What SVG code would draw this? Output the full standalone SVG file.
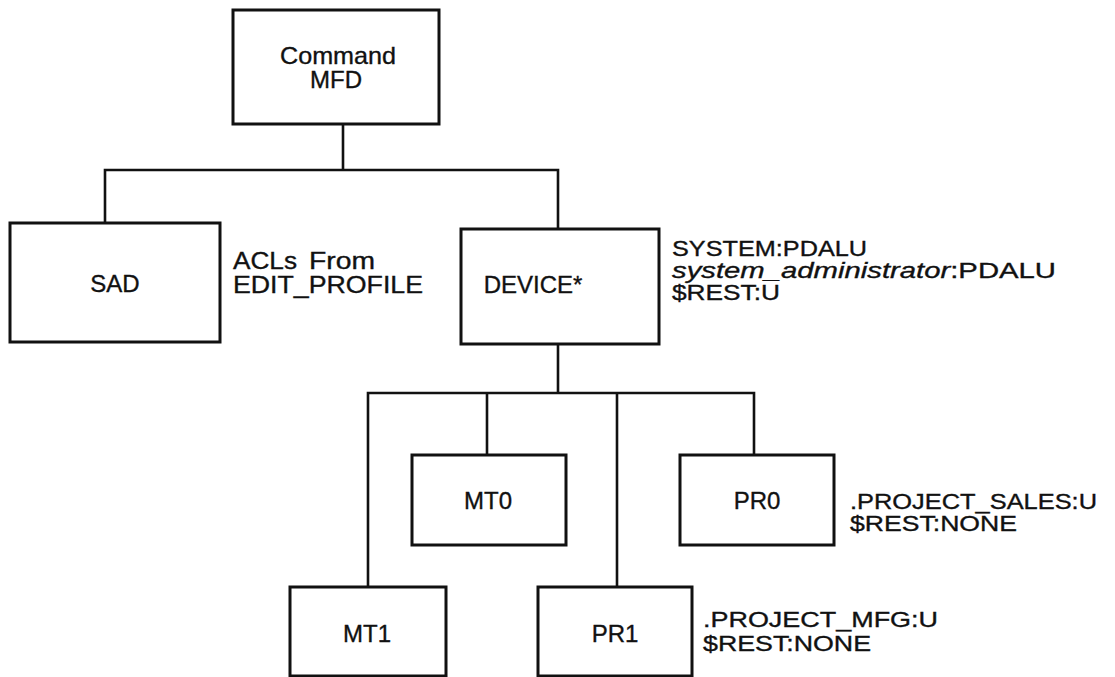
<svg xmlns="http://www.w3.org/2000/svg" width="1115" height="677" viewBox="0 0 1115 677">
<style>
.box{fill:#fff;stroke:#111;stroke-width:3}
.ln{fill:none;stroke:#111;stroke-width:2.6;stroke-linecap:square}
text{font-family:"Liberation Sans",Arial,Helvetica,sans-serif;font-size:24px;fill:#111;stroke:#111;stroke-width:0.35}
.a{font-size:22.5px}
.c{text-anchor:middle}
.i{font-style:italic}
</style>
<rect width="1115" height="677" fill="#fff"/>
<g id="connectors">
<path class="ln" d="M343 124V170M105 223V170H558V229M558 344V393M368 587V393H754V455M487 393V455M617 393V587"/>
</g>
<g id="node-command">
<rect class="box" x="233" y="10" width="206" height="114"/>
<text class="c" x="338" y="64" textLength="116" lengthAdjust="spacingAndGlyphs">Command</text>
<text class="c" x="336" y="88">MFD</text>
</g>
<g id="node-sad">
<rect class="box" x="10" y="223" width="210" height="119"/>
<text class="c" x="115" y="292">SAD</text>
<text x="233" y="269"><tspan textLength="64" lengthAdjust="spacingAndGlyphs">ACLs</tspan> <tspan x="309" textLength="66" lengthAdjust="spacingAndGlyphs">From</tspan></text>
<text x="233" y="293" textLength="190" lengthAdjust="spacingAndGlyphs">EDIT_PROFILE</text>
</g>
<g id="node-device">
<rect class="box" x="461" y="229" width="198" height="115"/>
<text class="c" x="533" y="293">DEVICE*</text>
<text class="a" x="672" y="256" textLength="195" lengthAdjust="spacingAndGlyphs">SYSTEM:PDALU</text>
<text class="a" x="672" y="278" textLength="384" lengthAdjust="spacingAndGlyphs"><tspan class="i">system_administrator</tspan>:PDALU</text>
<text class="a" x="672" y="300" textLength="108" lengthAdjust="spacingAndGlyphs">$REST:U</text>
</g>
<g id="node-mt0">
<rect class="box" x="412" y="455" width="154" height="90"/>
<text class="c" x="488" y="509">MT0</text>
</g>
<g id="node-pr0">
<rect class="box" x="680" y="455" width="154" height="90"/>
<text class="c" x="757" y="509">PR0</text>
<text class="a" x="850" y="509" textLength="247" lengthAdjust="spacingAndGlyphs">.PROJECT_SALES:U</text>
<text class="a" x="850" y="531" textLength="167" lengthAdjust="spacingAndGlyphs">$REST:NONE</text>
</g>
<g id="node-mt1">
<rect class="box" x="290" y="587" width="156" height="89"/>
<text class="c" x="367" y="642">MT1</text>
</g>
<g id="node-pr1">
<rect class="box" x="538" y="587" width="154" height="89"/>
<text class="c" x="615" y="642">PR1</text>
<text class="a" x="703" y="627" textLength="235" lengthAdjust="spacingAndGlyphs">.PROJECT_MFG:U</text>
<text class="a" x="703" y="651" textLength="168" lengthAdjust="spacingAndGlyphs">$REST:NONE</text>
</g>
</svg>
